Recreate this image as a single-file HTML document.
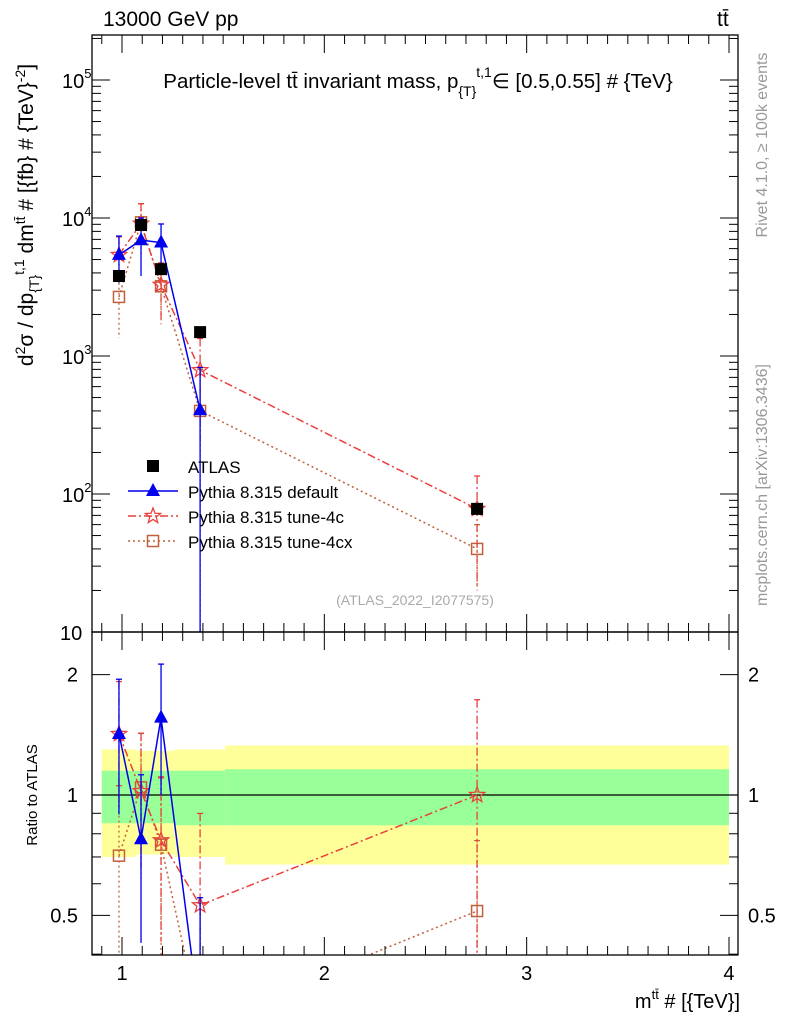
<!DOCTYPE html>
<html><head><meta charset="utf-8"><style>
html,body{margin:0;padding:0;background:#fff;overflow:hidden;width:786px;height:1024px;}
svg{display:block;font-family:"Liberation Sans",sans-serif;}
</style></head><body>
<svg id="c" width="786" height="1024" xmlns="http://www.w3.org/2000/svg">
<text x="103" y="26" font-size="21">13000 GeV pp</text>
<text x="717" y="26" font-size="21">tt̄</text>
<text x="418" y="88" font-size="20.5" text-anchor="middle">Particle-level tt̄ invariant mass, p<tspan dy="8" font-size="14">{T}</tspan><tspan dy="-19" font-size="14">t,1</tspan><tspan dy="11">∈ [0.5,0.55] # {TeV}</tspan></text>
<text transform="translate(767,145) rotate(-90)" font-size="16" fill="#999" text-anchor="middle">Rivet 4.1.0, ≥ 100k events</text>
<text transform="translate(767,485) rotate(-90)" font-size="16" fill="#999" text-anchor="middle">mcplots.cern.ch [arXiv:1306.3436]</text>
<text transform="translate(33,215) rotate(-90)" font-size="21" text-anchor="middle">d<tspan dy="-8" font-size="14">2</tspan><tspan dy="8">σ / dp</tspan><tspan dy="6" font-size="14">{T}</tspan><tspan dy="-15" font-size="14">t,1</tspan><tspan dy="9"> dm</tspan><tspan dy="-8" font-size="14">tt̄</tspan><tspan dy="8"> # [{fb} # {TeV}</tspan><tspan dy="-8" font-size="14">-2</tspan><tspan dy="8">]</tspan></text>
<text transform="translate(37,795) rotate(-90)" font-size="15" text-anchor="middle">Ratio to ATLAS</text>
<text x="740" y="1008" font-size="20" text-anchor="end">m<tspan dy="-9" font-size="13">tt̄</tspan><tspan dy="9"> # [{TeV}]</tspan></text>
<text x="415" y="605" font-size="14" fill="#aaa" text-anchor="middle">(ATLAS_2022_I2077575)</text>
<g id="g"></g>
</svg>
<script>
const xc=[0.985,1.094,1.193,1.386,2.755];
const edges=[0.9,1.07,1.12,1.26,1.51,4.0];
const atlas=[3800,8900,4260,1490,78];
const atlasErr=[100,300,150,50,3];
const bandYellowHi=[1.30,1.29,1.29,1.30,1.33];
const bandYellowLo=[0.70,0.71,0.71,0.70,0.67];
const bandGreenHi=[1.15,1.15,1.15,1.15,1.16];
const bandGreenLo=[0.85,0.85,0.85,0.84,0.84];
const defVals=[5400,6900,6650,405,null];
const defErr=[2000,3100,2400,420,null];
const c4Vals=[5400,9100,3280,790,78];
const c4Err=[1900,3600,1450,550,57];
const cxVals=[2680,9300,3200,400,40];
const cxErr=[1330,3400,1500,400,20];
const mainTicks=[{v:1e5,l:"5"},{v:1e4,l:"4"},{v:1e3,l:"3"},{v:1e2,l:"2"}];
const ratioTicks=[2,1,0.5];
const xTicks=[1,2,3,4];

const NS="http://www.w3.org/2000/svg";
const g=document.getElementById('g');
function el(t,a,p){const e=document.createElementNS(NS,t);for(const k in a)e.setAttribute(k,a[k]);(p||g).appendChild(e);return e;}
const L=92,R=738,T=35,MB=632,RB=955;
const X=v=>122+(v-1)*202.33;
const Y=v=>218-(Math.log10(v)-4)*138;
const YR=v=>795-Math.log10(v)*400;

const defs=el('defs',{});
const c1=el('clipPath',{id:'cm'},defs);el('rect',{x:L,y:T,width:R-L,height:MB-T},c1);
const c2=el('clipPath',{id:'cr'},defs);el('rect',{x:L,y:MB,width:R-L,height:RB-MB},c2);
const gm=el('g',{'clip-path':'url(#cm)'});
const gr=el('g',{'clip-path':'url(#cr)'});

for(let i=0;i<5;i++){
 let r=el('rect',{x:X(edges[i]),y:YR(bandYellowHi[i]),width:X(edges[i+1])-X(edges[i]),height:YR(bandYellowLo[i])-YR(bandYellowHi[i]),fill:'#ffff99'},gr);
 
 
 let q=el('rect',{x:X(edges[i]),y:YR(bandGreenHi[i]),width:X(edges[i+1])-X(edges[i]),height:YR(bandGreenLo[i])-YR(bandGreenHi[i]),fill:'#99ff99'},gr);
 
 
}
el('line',{x1:L,x2:R,y1:YR(1),y2:YR(1),stroke:'#000','stroke-width':1.2},gr);

function star(cx,cy,r){let p=[];for(let k=0;k<10;k++){const rr=k%2?r*0.42:r;const a=-Math.PI/2+k*Math.PI/5;p.push((cx+rr*Math.cos(a)).toFixed(1)+','+(cy+rr*Math.sin(a)).toFixed(1));}return p.join(' ');}
function marker(kind,x,y,col,par,name){
 let m;
 if(kind==='sq') m=el('rect',{x:x-6,y:y-6,width:12,height:12,fill:'#000'},par);
 else if(kind==='tri') m=el('polygon',{points:`${x},${y-8} ${x-7},${y+5} ${x+7},${y+5}`,fill:col},par);
 else if(kind==='star') m=el('polygon',{points:star(x,y,8),fill:'none',stroke:col,'stroke-width':1.3},par);
 else m=el('rect',{x:x-5.5,y:y-5.5,width:11,height:11,fill:'none',stroke:col,'stroke-width':1.5},par);
 
 
}
function series(vals,err,col,dash,kind,name,ratio){
 const par=ratio?gr:gm;
 const bottom=ratio?RB:MB;
 const fy=ratio?(v=>YR(v)):(v=>Y(v));
 const pts=[];
 for(let i=0;i<5;i++){
  if(vals[i]==null)continue;
  const v=ratio?vals[i]/atlas[i]:vals[i];
  const e=ratio?err[i]/atlas[i]:err[i];
  const x=X(xc[i]);
  const lo=v-e>0?Math.min(fy(v-e),bottom+2):bottom+2;
  el('line',{x1:x,x2:x,y1:fy(v+e),y2:lo,stroke:col,'stroke-width':1.3,'stroke-dasharray':dash},par);
  el('line',{x1:x-3,x2:x+3,y1:fy(v+e),y2:fy(v+e),stroke:col,'stroke-width':1.3},par);
  pts.push(x.toFixed(1)+','+fy(v).toFixed(1));
 }
 const pl=el('polyline',{points:pts.join(' '),fill:'none',stroke:col,'stroke-width':1.5,'stroke-dasharray':dash},par);
 
 
 for(let i=0;i<5;i++){ if(vals[i]==null)continue;
  const v=ratio?vals[i]/atlas[i]:vals[i]; marker(kind,X(xc[i]),fy(v),col,par,name+'-point'); }
}
const C4='#e8413c',CX='#c0603a',BL='#0000ee';
series(cxVals,cxErr,CX,'2,3','osq','tune4cx',false);
series(c4Vals,c4Err,C4,'8,3,2,3','star','tune4c',false);
series(defVals,defErr,BL,'','tri','default',false);
for(let i=0;i<5;i++){marker('sq',X(xc[i]),Y(atlas[i]),'#000',gm,'atlas-point');}
series(cxVals,cxErr,CX,'2,3','osq','ratio-tune4cx',true);
series(c4Vals,c4Err,C4,'8,3,2,3','star','ratio-tune4c',true);
series(defVals,defErr,BL,'','tri','ratio-default',true);

el('rect',{x:L,y:T,width:R-L,height:MB-T,fill:'none',stroke:'#000','stroke-width':1.3});
el('rect',{x:L,y:MB,width:R-L,height:RB-MB,fill:'none',stroke:'#000','stroke-width':1.3});
for(let d=1;d<=5;d++){for(let k=1;k<10;k++){const y=Y(k*Math.pow(10,d));if(y<T||y>MB)continue;const len=k===1?18:9;
 el('line',{x1:L,x2:L+len,y1:y,y2:y,stroke:'#000'});el('line',{x1:R-len,x2:R,y1:y,y2:y,stroke:'#000'});}}
mainTicks.forEach(t=>{const y=Y(t.v);const tx=el('text',{x:62,y:y+8,'font-size':20});tx.textContent='10';
 
 const s=el('tspan',{dy:-10,'font-size':13},tx);s.textContent=t.l;});
const ten=el('text',{x:60,y:MB+8,'font-size':20});ten.textContent='10';
[0.4,0.5,0.6,0.7,0.8,0.9,1,2].forEach(v=>{const y=YR(v);const len=(v===0.5||v===1||v===2)?18:9;
 el('line',{x1:L,x2:L+len,y1:y,y2:y,stroke:'#000'});el('line',{x1:R-len,x2:R,y1:y,y2:y,stroke:'#000'});});
ratioTicks.forEach(v=>{const a=el('text',{x:78,y:YR(v)+7,'font-size':20,'text-anchor':'end'});a.textContent=String(v);
 
 const b=el('text',{x:748,y:YR(v)+7,'font-size':20});b.textContent=String(v);});
for(let v=0.9;v<=4.01;v+=0.1){const x=X(v);if(x<L||x>R)continue;const maj=Math.abs(v-Math.round(v))<1e-6;const len=maj?18:9;
 [MB,RB].forEach(b=>el('line',{x1:x,x2:x,y1:b-len,y2:b,stroke:'#000'}));
 [T,MB].forEach(t=>el('line',{x1:x,x2:x,y1:t,y2:t+len,stroke:'#000'}));}
xTicks.forEach(v=>{const t=el('text',{x:X(v),y:980,'font-size':20,'text-anchor':'middle'});t.textContent=String(v);
 });
const leg=[['ATLAS','sq','#000',''],['Pythia 8.315 default','tri',BL,''],['Pythia 8.315 tune-4c','star',C4,'8,3,2,3'],['Pythia 8.315 tune-4cx','osq',CX,'2,3']];
leg.forEach((l,i)=>{const y=466+i*25;
 if(i>0)el('line',{x1:128,x2:178,y1:y,y2:y,stroke:l[2],'stroke-width':1.5,'stroke-dasharray':l[3]});
 marker(l[1],153,y,l[2],g,'legend-marker');
 const t=el('text',{x:188,y:y+7,'font-size':17});t.textContent=l[0];
 });
</script>
</body></html>
